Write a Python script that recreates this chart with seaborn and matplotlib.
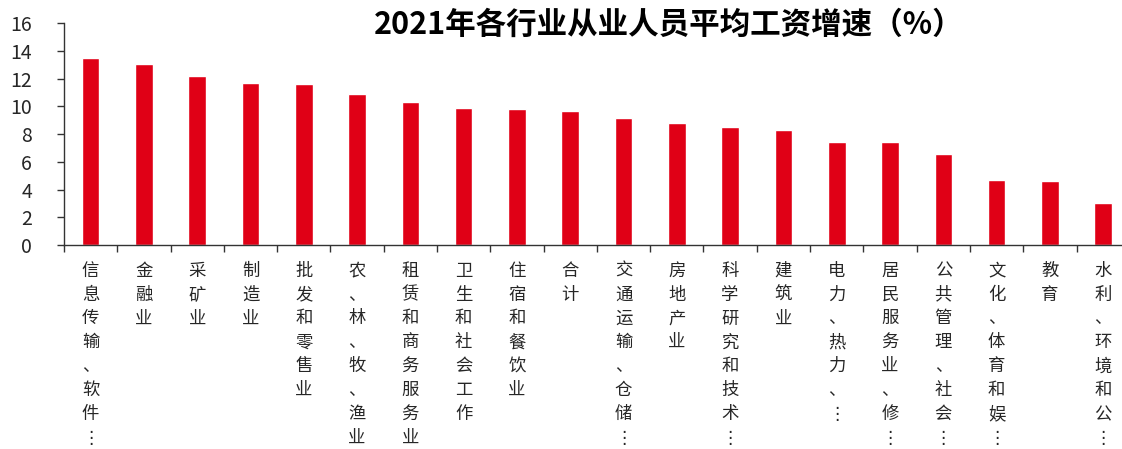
import matplotlib
matplotlib.use("Agg")
import matplotlib.pyplot as plt
import seaborn as sns
import pandas as pd
import numpy as np

# 2021 average wage growth by industry (%)
industries = [
    "信息传输、软件…", "金融业", "采矿业", "制造业", "批发和零售业",
    "农、林、牧、渔业", "租赁和商务服务业", "卫生和社会工作", "住宿和餐饮业", "合计",
    "交通运输、仓储…", "房地产业", "科学研究和技术…", "建筑业", "电力、热力、…",
    "居民服务业、修…", "公共管理、社会…", "文化、体育和娱…", "教育", "水利、环境和公…",
]
growth = [13.5, 13.1, 12.2, 11.7, 11.6, 10.9, 10.3, 9.9, 9.8, 9.7,
          9.2, 8.8, 8.5, 8.3, 7.4, 7.4, 6.6, 4.7, 4.6, 3.0]
y_ticks = [0, 2, 4, 6, 8, 10, 12, 14, 16]
title = "2021年各行业从业人员平均工资增速（%）"

sns.set_theme(style="white")
plt.rcParams["font.family"] = ["Noto Sans CJK SC", "DejaVu Sans"]

df = pd.DataFrame({"industry": industries, "growth": growth})

fig = plt.figure(figsize=(11.22, 4.49), dpi=100)
ax = fig.add_axes([0.057, 0.4543, 0.950, 0.4937])

sns.barplot(data=df, x="industry", y="growth", color="#E00016",
            saturation=1, width=0.33, ax=ax)

ax.set_ylim(0, 16)
ax.set_xlim(-0.5, len(industries) - 0.5)
ax.set_yticks(y_ticks)
ax.set_yticklabels([str(v) for v in y_ticks], fontsize=14)
ax.set_xlabel("")
ax.set_ylabel("")

# vertical (stacked) category labels
def stack(text):
    return "\n".join(text.replace("…", "⋮"))

ax.set_xticks(np.arange(len(industries)))
ax.set_xticklabels([stack(t) for t in industries], fontsize=12.5,
                   linespacing=1.42, va="top", ha="center")
ax.tick_params(axis="x", which="major", length=0, pad=12)
ax.set_xticks(np.arange(-0.5, len(industries), 1), minor=True)
ax.tick_params(axis="x", which="minor", length=5, width=1, color="#333333",
               direction="out", bottom=True)
ax.tick_params(axis="y", length=5, width=1, color="#333333", direction="out",
               left=True, pad=18)

for side in ("top", "right"):
    ax.spines[side].set_visible(False)
for side in ("left", "bottom"):
    ax.spines[side].set_color("#333333")
    ax.spines[side].set_linewidth(1)

fig.text(0.596, 0.945, title, ha="center", va="center", fontsize=22,
         fontweight="bold", color="black")

fig.savefig("out.png", dpi=100)
